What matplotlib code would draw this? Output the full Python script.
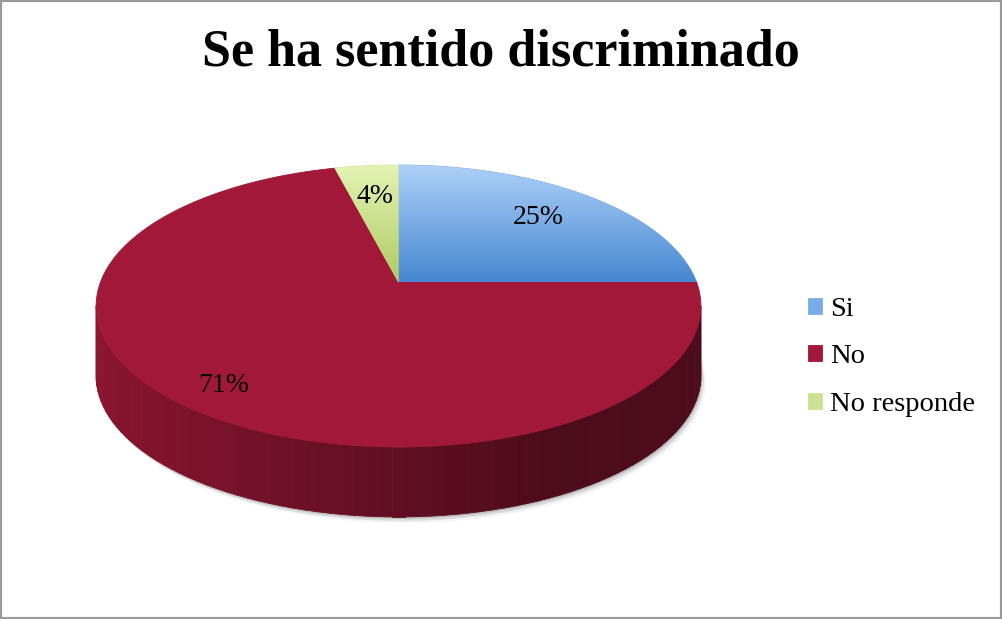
import numpy as np
import matplotlib
matplotlib.use('Agg')
import matplotlib.pyplot as plt
from matplotlib.transforms import Transform, Affine2D
from matplotlib.path import Path
from matplotlib.collections import PolyCollection
from matplotlib.colors import LinearSegmentedColormap, to_rgb
from matplotlib.patches import Rectangle

title = 'Se ha sentido discriminado'
labels = ['Si', 'No', 'No responde']
values = [25, 71, 4]

top_colors = ['#78ace6', '#a11838', '#cce290']
gradients = [('#aed1f9', '#4687d0'), None, ('#e4f3b4', '#aecb62')]
label_dist = [0.72, 0.85, 0.7]

# tilted disc, in pixel units of the figure
CX, CY = 398.5, 282.0
RX, RY = 298.0, 136.9
K = 0.17
DEPTH = 70.0
SERIF = 'Liberation Serif'


class Tilt(Transform):
    """Perspective view of the unit disc lying on the floor."""
    input_dims = output_dims = 2

    def transform_non_affine(self, xy):
        xy = np.asarray(xy, dtype=float).reshape(-1, 2)
        w = 1 + K * xy[:, 1]
        return np.column_stack([CX + RX * xy[:, 0] / w, CY - RY * xy[:, 1] / w])

    def transform_path_non_affine(self, path):
        polys = path.transformed(Affine2D().scale(1000)).to_polygons(closed_only=False)
        xy = self.transform_non_affine(np.concatenate(polys) / 1000)
        xy = np.vstack([xy, xy[:1]])
        return Path(xy, closed=True)


tilt = Tilt()

fig = plt.figure(figsize=(10.02, 6.19), dpi=100)
ax = fig.add_axes([0, 0, 1, 1])

wedges, _ = ax.pie(values, colors=top_colors, startangle=90, counterclock=False,
                   wedgeprops=dict(linewidth=0.6))
for w in wedges:
    w.set_transform(tilt + ax.transData)
    w.set_edgecolor(w.get_facecolor())
    w.set_zorder(2)

# soft shadow under the disc
ring = np.linspace(0, 2 * np.pi, 200)
rim = tilt.transform(np.column_stack([np.cos(ring), np.sin(ring)]))
for dx, dy, a in [(5, 6, 0.08), (3, 4, 0.2), (1.5, 2, 0.3)]:
    ax.fill(rim[:, 0] + dx, rim[:, 1] + DEPTH + dy, color='#808080', alpha=a,
            lw=0, zorder=0.2)

# visible side wall, lit from the left
t0 = np.arcsin(K)
ts = np.linspace(-np.pi + t0, -t0, 80)
edge = tilt.transform(np.column_stack([np.cos(ts), np.sin(ts)]))
polys, cols = [], []
for i in range(len(ts) - 1):
    a, b = edge[i], edge[i + 1]
    polys.append([a, b, b + (0, DEPTH), a + (0, DEPTH)])
    mid = np.degrees(0.5 * (ts[i] + ts[i + 1]))
    for w in wedges:
        if (mid - w.theta1) % 360 <= (w.theta2 - w.theta1):
            base = np.array(to_rgb(w.get_facecolor()))
    shade = max(0.6 - 0.28 * np.cos(np.radians(mid)), 0.48)
    cols.append(np.clip(base * shade, 0, 1))
ax.add_collection(PolyCollection(polys, facecolors=cols, edgecolors=cols,
                                 linewidths=0.6, zorder=1))

# gradient fill on the top of the lighter slices
for w, g in zip(wedges, gradients):
    if g is None:
        continue
    bb = tilt.transform_path(w.get_path()).get_extents()
    cmap = LinearSegmentedColormap.from_list('grad', g)
    im = ax.imshow(np.linspace(0, 1, 256).reshape(-1, 1), cmap=cmap, aspect='auto',
                   extent=(bb.x0, bb.x1, bb.y1, bb.y0), interpolation='bilinear',
                   zorder=3)
    im.set_clip_path(w)

# percentage labels
for w, v, r in zip(wedges, values, label_dist):
    mid = np.radians(0.5 * (w.theta1 + w.theta2))
    x, y = tilt.transform([[r * np.cos(mid), r * np.sin(mid)]])[0]
    ax.text(x, y, f'{v}%', ha='center', va='center', fontsize=20,
            family=SERIF, zorder=5)

ax.set_xlim(0, 1002)
ax.set_ylim(619, 0)
ax.set_aspect('auto')
ax.axis('off')

fig.text(501 / 1002, 1 - 53 / 619, title, ha='center', va='center',
         fontsize=37.5, fontweight='bold', family=SERIF)

ax.legend(wedges, labels, loc='center left', bbox_to_anchor=(808 / 1002, 1 - 357 / 619),
          bbox_transform=fig.transFigure, frameon=False,
          prop={'family': SERIF, 'size': 20.5}, handlelength=0.48, handleheight=0.48,
          handletextpad=0.3, labelspacing=0.8, borderpad=0, borderaxespad=0)

fig.patches.append(Rectangle((0, 0), 1, 1, transform=fig.transFigure, fill=False,
                             edgecolor='#9a9a9a', linewidth=3, clip_on=False))

fig.savefig('out.png', dpi=100)
